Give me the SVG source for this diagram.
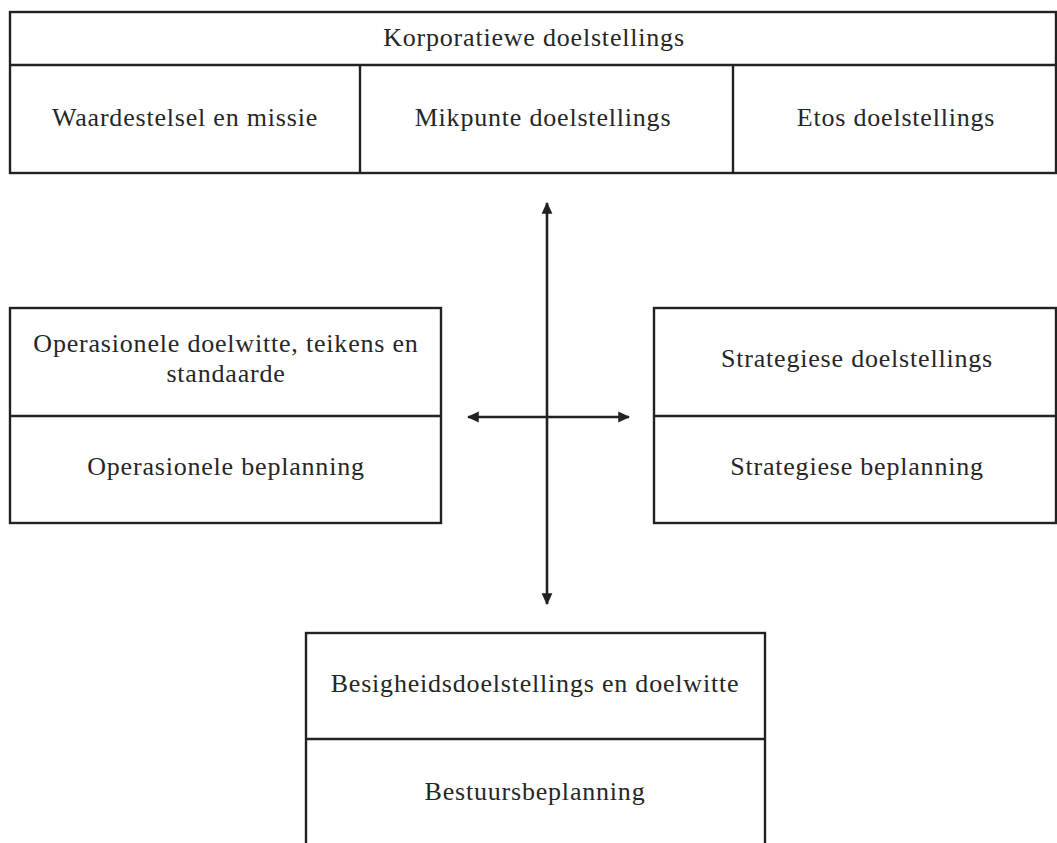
<svg xmlns="http://www.w3.org/2000/svg" width="1057" height="843" viewBox="0 0 1057 843">
  <style>
    .box { fill: none; stroke: #222; stroke-width: 2.4; }
    .div { stroke: #222; stroke-width: 2.4; }
    .lbl { font-family: "Liberation Serif", "Times New Roman", serif; font-size: 26px; letter-spacing: 0.8px; fill: #262626; text-anchor: middle; }
    .conn { stroke: #222; stroke-width: 2.6; fill: none; }
  </style>
  <defs>
    <marker id="head" viewBox="0 0 10 10" refX="9" refY="5" markerWidth="4.6" markerHeight="4.6" orient="auto-start-reverse" markerUnits="strokeWidth">
      <path d="M0,0.5 L10,5 L0,9.5 z" fill="#222"/>
    </marker>
  </defs>
  <rect width="1057" height="843" fill="#fff"/>

  <!-- corporate goals table -->
  <g id="korporatief">
    <rect class="box" x="10" y="12" width="1046" height="161"/>
    <line class="div" x1="10" y1="65" x2="1056" y2="65"/>
    <line class="div" x1="360" y1="65" x2="360" y2="173"/>
    <line class="div" x1="733" y1="65" x2="733" y2="173"/>
    <text class="lbl" x="534" y="46">Korporatiewe doelstellings</text>
    <text class="lbl" x="185" y="126">Waardestelsel en missie</text>
    <text class="lbl" x="543" y="126">Mikpunte doelstellings</text>
    <text class="lbl" x="896" y="126">Etos doelstellings</text>
  </g>

  <!-- operational -->
  <g id="operasioneel">
    <rect class="box" x="10" y="308" width="431" height="215"/>
    <line class="div" x1="10" y1="416" x2="441" y2="416"/>
    <text class="lbl" x="226" y="352">Operasionele doelwitte, teikens en</text>
    <text class="lbl" x="226" y="382">standaarde</text>
    <text class="lbl" x="226" y="475">Operasionele beplanning</text>
  </g>

  <!-- strategic -->
  <g id="strategies">
    <rect class="box" x="654" y="308" width="402" height="215"/>
    <line class="div" x1="654" y1="416" x2="1056" y2="416"/>
    <text class="lbl" x="857" y="367">Strategiese doelstellings</text>
    <text class="lbl" x="857" y="475">Strategiese beplanning</text>
  </g>

  <!-- business -->
  <g id="besigheid">
    <rect class="box" x="306" y="633" width="459" height="230"/>
    <line class="div" x1="306" y1="739" x2="765" y2="739"/>
    <text class="lbl" x="535" y="692">Besigheidsdoelstellings en doelwitte</text>
    <text class="lbl" x="535" y="800">Bestuursbeplanning</text>
  </g>

  <!-- cross of double-headed arrows -->
  <g id="connectors">
    <line class="conn" x1="547" y1="203" x2="547" y2="604" marker-start="url(#head)" marker-end="url(#head)"/>
    <line class="conn" x1="468" y1="417" x2="629" y2="417" marker-start="url(#head)" marker-end="url(#head)"/>
  </g>
</svg>
